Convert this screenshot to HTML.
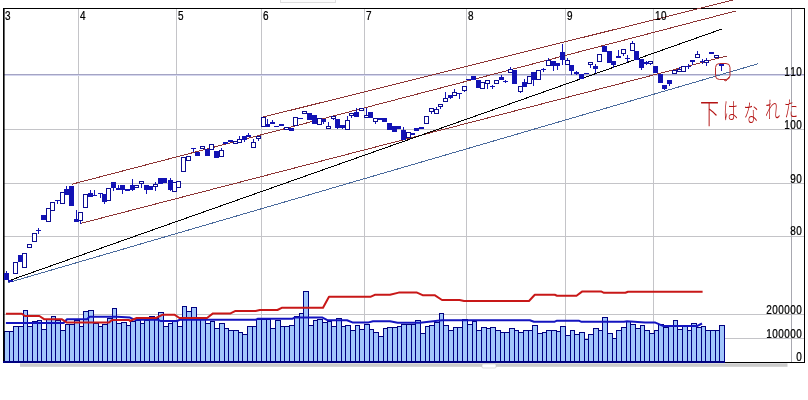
<!DOCTYPE html>
<html lang="ja"><head><meta charset="utf-8"><title>chart</title>
<style>html,body{margin:0;padding:0;background:#fff}body{width:808px;height:400px;overflow:hidden;font-family:"Liberation Sans","Noto Sans CJK JP",sans-serif}svg{display:block}text{font-family:"Liberation Sans","Noto Sans CJK JP",sans-serif}</style></head><body>
<svg width="808" height="400" viewBox="0 0 808 400">
<rect width="808" height="400" fill="#fff"/>
<rect x="20" y="363.3" width="767.5" height="3.5" fill="#cbcbcb"/>
<rect x="482" y="364" width="14" height="4" rx="1" fill="#fff" stroke="#bbb" stroke-width="0.5"/>
<rect x="280.5" y="-2" width="55" height="4.5" fill="#fdfdfd" stroke="#dedede" stroke-width="1"/>
<path d="M78.5 8V361 M176.5 8V361 M261.5 8V361 M364.5 8V361 M466.5 8V361 M565.5 8V361 M653.5 8V361 M4 129.5H804 M4 183.5H804 M4 236.5H804 M4 314.5H804 M4 338.5H804" stroke="#c4c4c8" stroke-width="1" fill="none" shape-rendering="crispEdges"/>
<path d="M4 74.5H804" stroke="#a4a4c4" stroke-width="1" shape-rendering="crispEdges"/>
<path d="M4 75.5H804" stroke="#d4d6ee" stroke-width="1" shape-rendering="crispEdges"/>
<g fill="#a2c6fb" stroke="#000080" stroke-width="1" shape-rendering="crispEdges"><rect x="4.5" y="331.5" width="5" height="30"/><rect x="9.5" y="331.5" width="4" height="30"/><rect x="13.5" y="326.5" width="5" height="35"/><rect x="18.5" y="326.5" width="5" height="35"/><rect x="23.5" y="310.5" width="4" height="51"/><rect x="27.5" y="326.5" width="5" height="35"/><rect x="32.5" y="321.5" width="5" height="40"/><rect x="37.5" y="320.5" width="4" height="41"/><rect x="41.5" y="329.5" width="5" height="32"/><rect x="46.5" y="319.5" width="5" height="42"/><rect x="51.5" y="316.5" width="4" height="45"/><rect x="55.5" y="320.5" width="5" height="41"/><rect x="60.5" y="330.5" width="5" height="31"/><rect x="65.5" y="324.5" width="4" height="37"/><rect x="69.5" y="324.5" width="5" height="37"/><rect x="74.5" y="320.5" width="5" height="41"/><rect x="79.5" y="326.5" width="4" height="35"/><rect x="83.5" y="311.5" width="5" height="50"/><rect x="88.5" y="310.5" width="5" height="51"/><rect x="93.5" y="323.5" width="5" height="38"/><rect x="98.5" y="326.5" width="4" height="35"/><rect x="102.5" y="324.5" width="5" height="37"/><rect x="107.5" y="318.5" width="5" height="43"/><rect x="112.5" y="308.5" width="4" height="53"/><rect x="116.5" y="323.5" width="5" height="38"/><rect x="121.5" y="322.5" width="5" height="39"/><rect x="126.5" y="325.5" width="4" height="36"/><rect x="130.5" y="321.5" width="5" height="40"/><rect x="135.5" y="320.5" width="5" height="41"/><rect x="140.5" y="323.5" width="4" height="38"/><rect x="144.5" y="320.5" width="5" height="41"/><rect x="149.5" y="316.5" width="5" height="45"/><rect x="154.5" y="318.5" width="4" height="43"/><rect x="158.5" y="312.5" width="5" height="49"/><rect x="163.5" y="326.5" width="5" height="35"/><rect x="168.5" y="323.5" width="4" height="38"/><rect x="172.5" y="321.5" width="5" height="40"/><rect x="177.5" y="326.5" width="5" height="35"/><rect x="182.5" y="306.5" width="4" height="55"/><rect x="186.5" y="311.5" width="5" height="50"/><rect x="191.5" y="307.5" width="5" height="54"/><rect x="196.5" y="318.5" width="4" height="43"/><rect x="200.5" y="318.5" width="5" height="43"/><rect x="205.5" y="323.5" width="5" height="38"/><rect x="210.5" y="321.5" width="4" height="40"/><rect x="214.5" y="328.5" width="5" height="33"/><rect x="219.5" y="323.5" width="5" height="38"/><rect x="224.5" y="328.5" width="4" height="33"/><rect x="228.5" y="330.5" width="5" height="31"/><rect x="233.5" y="330.5" width="5" height="31"/><rect x="238.5" y="332.5" width="4" height="29"/><rect x="242.5" y="334.5" width="5" height="27"/><rect x="247.5" y="326.5" width="5" height="35"/><rect x="252.5" y="326.5" width="4" height="35"/><rect x="256.5" y="319.5" width="5" height="42"/><rect x="261.5" y="319.5" width="5" height="42"/><rect x="266.5" y="319.5" width="4" height="42"/><rect x="270.5" y="328.5" width="5" height="33"/><rect x="275.5" y="320.5" width="5" height="41"/><rect x="280.5" y="326.5" width="4" height="35"/><rect x="284.5" y="326.5" width="5" height="35"/><rect x="289.5" y="325.5" width="5" height="36"/><rect x="294.5" y="316.5" width="5" height="45"/><rect x="299.5" y="313.5" width="4" height="48"/><rect x="303.5" y="291.5" width="5" height="70"/><rect x="308.5" y="325.5" width="5" height="36"/><rect x="313.5" y="320.5" width="4" height="41"/><rect x="317.5" y="319.5" width="5" height="42"/><rect x="322.5" y="322.5" width="5" height="39"/><rect x="327.5" y="321.5" width="4" height="40"/><rect x="331.5" y="326.5" width="5" height="35"/><rect x="336.5" y="318.5" width="5" height="43"/><rect x="341.5" y="326.5" width="4" height="35"/><rect x="345.5" y="325.5" width="5" height="36"/><rect x="350.5" y="330.5" width="5" height="31"/><rect x="355.5" y="325.5" width="4" height="36"/><rect x="359.5" y="329.5" width="5" height="32"/><rect x="364.5" y="324.5" width="5" height="37"/><rect x="369.5" y="329.5" width="4" height="32"/><rect x="373.5" y="332.5" width="5" height="29"/><rect x="378.5" y="336.5" width="5" height="25"/><rect x="383.5" y="328.5" width="4" height="33"/><rect x="387.5" y="327.5" width="5" height="34"/><rect x="392.5" y="327.5" width="5" height="34"/><rect x="397.5" y="326.5" width="4" height="35"/><rect x="401.5" y="324.5" width="5" height="37"/><rect x="406.5" y="324.5" width="5" height="37"/><rect x="411.5" y="324.5" width="4" height="37"/><rect x="415.5" y="320.5" width="5" height="41"/><rect x="420.5" y="333.5" width="5" height="28"/><rect x="425.5" y="326.5" width="4" height="35"/><rect x="429.5" y="325.5" width="5" height="36"/><rect x="434.5" y="322.5" width="5" height="39"/><rect x="439.5" y="313.5" width="4" height="48"/><rect x="443.5" y="325.5" width="5" height="36"/><rect x="448.5" y="330.5" width="5" height="31"/><rect x="453.5" y="327.5" width="4" height="34"/><rect x="457.5" y="327.5" width="5" height="34"/><rect x="462.5" y="319.5" width="5" height="42"/><rect x="467.5" y="324.5" width="5" height="37"/><rect x="472.5" y="321.5" width="4" height="40"/><rect x="476.5" y="330.5" width="5" height="31"/><rect x="481.5" y="327.5" width="5" height="34"/><rect x="486.5" y="328.5" width="4" height="33"/><rect x="490.5" y="327.5" width="5" height="34"/><rect x="495.5" y="330.5" width="5" height="31"/><rect x="500.5" y="332.5" width="4" height="29"/><rect x="504.5" y="332.5" width="5" height="29"/><rect x="509.5" y="328.5" width="5" height="33"/><rect x="514.5" y="330.5" width="4" height="31"/><rect x="518.5" y="332.5" width="5" height="29"/><rect x="523.5" y="330.5" width="5" height="31"/><rect x="528.5" y="330.5" width="4" height="31"/><rect x="532.5" y="325.5" width="5" height="36"/><rect x="537.5" y="333.5" width="5" height="28"/><rect x="542.5" y="332.5" width="4" height="29"/><rect x="546.5" y="330.5" width="5" height="31"/><rect x="551.5" y="330.5" width="5" height="31"/><rect x="556.5" y="331.5" width="4" height="30"/><rect x="560.5" y="326.5" width="5" height="35"/><rect x="565.5" y="335.5" width="5" height="26"/><rect x="570.5" y="330.5" width="4" height="31"/><rect x="574.5" y="334.5" width="5" height="27"/><rect x="579.5" y="332.5" width="5" height="29"/><rect x="584.5" y="339.5" width="4" height="22"/><rect x="588.5" y="334.5" width="5" height="27"/><rect x="593.5" y="328.5" width="5" height="33"/><rect x="598.5" y="330.5" width="4" height="31"/><rect x="602.5" y="317.5" width="5" height="44"/><rect x="607.5" y="333.5" width="5" height="28"/><rect x="612.5" y="338.5" width="4" height="23"/><rect x="616.5" y="330.5" width="5" height="31"/><rect x="621.5" y="327.5" width="5" height="34"/><rect x="626.5" y="321.5" width="4" height="40"/><rect x="630.5" y="324.5" width="5" height="37"/><rect x="635.5" y="328.5" width="5" height="33"/><rect x="640.5" y="325.5" width="4" height="36"/><rect x="644.5" y="330.5" width="5" height="31"/><rect x="649.5" y="333.5" width="5" height="28"/><rect x="654.5" y="330.5" width="4" height="31"/><rect x="658.5" y="324.5" width="5" height="37"/><rect x="663.5" y="327.5" width="5" height="34"/><rect x="668.5" y="326.5" width="5" height="35"/><rect x="673.5" y="320.5" width="4" height="41"/><rect x="677.5" y="329.5" width="5" height="32"/><rect x="682.5" y="325.5" width="5" height="36"/><rect x="687.5" y="330.5" width="4" height="31"/><rect x="691.5" y="323.5" width="5" height="38"/><rect x="696.5" y="327.5" width="5" height="34"/><rect x="701.5" y="326.5" width="4" height="35"/><rect x="705.5" y="330.5" width="5" height="31"/><rect x="710.5" y="330.5" width="5" height="31"/><rect x="715.5" y="330.5" width="4" height="31"/><rect x="719.5" y="325.5" width="5" height="36"/></g>
<path d="M3 8.5H805" stroke="#000" stroke-width="1" shape-rendering="crispEdges"/>
<rect x="3" y="8" width="1.6" height="355" fill="#000"/>
<path d="M804.5 8V363" stroke="#000" stroke-width="1" shape-rendering="crispEdges"/>
<path d="M3 362H725" stroke="#000080" stroke-width="2" shape-rendering="crispEdges"/>
<path d="M725 362.5H805" stroke="#000" stroke-width="1" shape-rendering="crispEdges"/>
<polyline points="5.9,323.0 63.6,323.0 67.0,319.3 87.0,319.3 89.6,316.8 117.0,316.8 130.0,317.6 135.0,319.8 158.5,319.8 160.5,321.0 177.0,321.0 180.0,319.8 255.6,319.8 258.0,318.7 292.6,318.7 295.0,317.4 322.0,317.4 327.4,320.2 347.0,320.2 352.4,322.4 368.7,322.4 373.0,321.3 390.0,321.3 397.6,322.8 420.0,322.8 442.0,320.2 529.8,320.2 534.0,321.7 554.8,321.7 557.0,320.7 578.7,320.7 581.0,321.7 624.0,321.7 627.0,321.3 645.0,322.4 654.8,322.4 663.5,326.1 697.0,326.1 702.0,323.5" fill="none" stroke="#1414c0" stroke-width="2" stroke-linejoin="round"/>
<polyline points="5.9,313.7 21.8,313.7 25.0,316.0 39.4,316.0 44.4,319.3 62.0,319.3 67.0,322.6 109.0,322.6 112.0,320.0 129.0,320.0 130.0,321.0 136.7,318.0 156.0,318.0 162.7,314.7 174.4,314.7 179.4,318.0 207.0,318.0 213.0,313.4 230.5,313.4 235.5,310.9 255.6,310.9 259.8,310.0 277.4,310.0 281.7,307.8 323.0,307.8 329.0,296.7 370.9,296.7 374.8,294.8 390.0,294.8 398.7,292.6 417.0,292.6 422.6,295.2 434.6,295.2 442.0,300.0 459.6,300.0 464.0,301.0 529.0,301.0 534.8,294.8 554.8,294.8 557.0,295.7 576.5,295.7 582.0,291.6 601.5,291.6 604.0,292.8 625.4,292.8 628.0,291.8 702.6,291.8" fill="none" stroke="#c81818" stroke-width="2" stroke-linejoin="round"/>
<g fill="none" stroke-width="1" shape-rendering="crispEdges">
<path d="M263 117.1L733 0" stroke="#8c3434"/>
<path d="M72 184.2L736 10.9" stroke="#8c3434"/>
<path d="M80.75 223.4L726.7 56" stroke="#8c3434"/>
<path d="M10 280.3L721.75 29.1" stroke="#000"/>
<path d="M8 282.7L758 63.8" stroke="#4a6a9c"/>
</g>
<path d="M6.5 271V273 M38.5 228V230 M38.5 231V234 M57.5 201V204 M66.5 186V189 M76.5 210V219 M80.5 221V224 M90.5 190V193 M94.5 190V195 M100.5 194V198 M104.5 202V204 M113.5 188V191 M118.5 185V188 M122.5 190V194 M132.5 179V185 M132.5 190V191 M141.5 184V188 M146.5 190V194 M155.5 182V184 M155.5 187V191 M170.5 178V180 M170.5 190V191 M193.5 149V152 M221.5 148V150 M239.5 136V139 M244.5 140V142 M248.5 133V135 M253.5 139V142 M258.5 139V141 M267.5 119V124 M272.5 120V122 M323.5 122V124 M328.5 122V126 M333.5 119V120 M337.5 128V129 M342.5 128V129 M347.5 116V120 M351.5 116V118 M356.5 108V112 M366.5 108V115 M375.5 122V124 M403.5 127V130 M431.5 112V114 M436.5 107V109 M440.5 107V109 M445.5 92V98 M450.5 98V99 M454.5 89V92 M459.5 94V99 M464.5 91V92 M487.5 84V89 M492.5 85V86 M492.5 87V89 M501.5 75V77 M505.5 80V81 M505.5 82V83 M510.5 67V69 M520.5 92V93 M524.5 79V82 M533.5 80V86 M543.5 68V69 M543.5 70V72 M548.5 58V60 M553.5 66V71 M557.5 66V70 M562.5 44V52 M562.5 60V65 M567.5 58V60 M571.5 71V75 M576.5 71V72 M576.5 74V75 M590.5 65V68 M595.5 64V66 M595.5 69V73 M613.5 65V68 M618.5 50V56 M623.5 54V56 M627.5 55V58 M627.5 59V62 M632.5 41V43 M641.5 68V70 M646.5 61V62 M646.5 64V65 M650.5 64V65 M664.5 89V90 M669.5 84V86 M679.5 67V69 M688.5 64V66 M688.5 67V69 M692.5 62V65 M697.5 51V54 M702.5 59V61 M702.5 62V64 M706.5 58V60 M706.5 63V66 M721.5 66V71" stroke="#1212b4" stroke-width="1" fill="none" shape-rendering="crispEdges"/>
<g fill="#fff" stroke="#0c0c92" stroke-width="1" shape-rendering="crispEdges"><rect x="13.5" y="262.5" width="4" height="11"/><rect x="22.5" y="253.5" width="4" height="14"/><rect x="27.5" y="244.5" width="4" height="3"/><rect x="32.5" y="233.5" width="4" height="8"/><rect x="46.5" y="208.5" width="4" height="13"/><rect x="50.5" y="202.5" width="4" height="8"/><rect x="60.5" y="192.5" width="4" height="11"/><rect x="78.5" y="212.5" width="4" height="8"/><rect x="83.5" y="194.5" width="4" height="13"/><rect x="106.5" y="188.5" width="4" height="12"/><rect x="134.5" y="185.5" width="4" height="2"/><rect x="139.5" y="181.5" width="4" height="2"/><rect x="153.5" y="184.5" width="4" height="2"/><rect x="172.5" y="182.5" width="4" height="9"/><rect x="176.5" y="181.5" width="4" height="6"/><rect x="181.5" y="157.5" width="4" height="14"/><rect x="186.5" y="156.5" width="4" height="4"/><rect x="200.5" y="146.5" width="4" height="2"/><rect x="209.5" y="144.5" width="4" height="5"/><rect x="219.5" y="150.5" width="4" height="6"/><rect x="233.5" y="141.5" width="4" height="2"/><rect x="237.5" y="139.5" width="4" height="3"/><rect x="251.5" y="142.5" width="4" height="5"/><rect x="256.5" y="136.5" width="4" height="2"/><rect x="261.5" y="117.5" width="4" height="9"/><rect x="284.5" y="127.5" width="4" height="2"/><rect x="293.5" y="117.5" width="4" height="8"/><rect x="302.5" y="111.5" width="4" height="2"/><rect x="317.5" y="118.5" width="4" height="6"/><rect x="326.5" y="126.5" width="4" height="2"/><rect x="331.5" y="116.5" width="4" height="2"/><rect x="345.5" y="120.5" width="4" height="9"/><rect x="349.5" y="113.5" width="4" height="2"/><rect x="359.5" y="108.5" width="4" height="2"/><rect x="364.5" y="115.5" width="4" height="2"/><rect x="373.5" y="118.5" width="4" height="3"/><rect x="406.5" y="132.5" width="4" height="5"/><rect x="424.5" y="116.5" width="4" height="7"/><rect x="429.5" y="108.5" width="4" height="3"/><rect x="434.5" y="109.5" width="4" height="4"/><rect x="438.5" y="104.5" width="4" height="2"/><rect x="443.5" y="98.5" width="4" height="3"/><rect x="452.5" y="92.5" width="4" height="3"/><rect x="462.5" y="86.5" width="4" height="4"/><rect x="480.5" y="82.5" width="4" height="6"/><rect x="485.5" y="80.5" width="4" height="3"/><rect x="494.5" y="80.5" width="4" height="3"/><rect x="508.5" y="69.5" width="4" height="3"/><rect x="518.5" y="86.5" width="4" height="5"/><rect x="527.5" y="76.5" width="4" height="7"/><rect x="536.5" y="70.5" width="4" height="9"/><rect x="546.5" y="60.5" width="4" height="5"/><rect x="565.5" y="60.5" width="4" height="4"/><rect x="588.5" y="62.5" width="4" height="2"/><rect x="597.5" y="54.5" width="4" height="7"/><rect x="621.5" y="49.5" width="4" height="4"/><rect x="630.5" y="43.5" width="4" height="7"/><rect x="648.5" y="61.5" width="4" height="2"/><rect x="672.5" y="70.5" width="4" height="3"/><rect x="677.5" y="69.5" width="4" height="2"/><rect x="681.5" y="66.5" width="4" height="5"/><rect x="695.5" y="54.5" width="4" height="3"/><rect x="704.5" y="60.5" width="4" height="2"/><rect x="714.5" y="55.5" width="4" height="2"/></g>
<g fill="#1212b4" shape-rendering="crispEdges"><rect x="4.0" y="273" width="5" height="7"/><rect x="8.0" y="280" width="5" height="2"/><rect x="18.0" y="255" width="5" height="7"/><rect x="36.0" y="230" width="5" height="1"/><rect x="41.0" y="215" width="5" height="5"/><rect x="55.0" y="200" width="5" height="1"/><rect x="64.0" y="189" width="5" height="6"/><rect x="69.0" y="186" width="5" height="20"/><rect x="74.0" y="219" width="5" height="3"/><rect x="88.0" y="193" width="5" height="4"/><rect x="92.0" y="195" width="5" height="1"/><rect x="98.0" y="193" width="5" height="1"/><rect x="102.0" y="194" width="5" height="8"/><rect x="111.0" y="182" width="5" height="6"/><rect x="116.0" y="188" width="5" height="2"/><rect x="120.0" y="185" width="5" height="5"/><rect x="125.0" y="189" width="5" height="2"/><rect x="130.0" y="185" width="5" height="5"/><rect x="144.0" y="185" width="5" height="5"/><rect x="148.0" y="186" width="5" height="4"/><rect x="158.0" y="178" width="5" height="6"/><rect x="162.0" y="178" width="5" height="5"/><rect x="168.0" y="180" width="5" height="10"/><rect x="191.0" y="148" width="5" height="1"/><rect x="195.0" y="152" width="5" height="4"/><rect x="205.0" y="149" width="5" height="7"/><rect x="214.0" y="151" width="5" height="7"/><rect x="223.0" y="142" width="5" height="2"/><rect x="228.0" y="140" width="5" height="2"/><rect x="242.0" y="136" width="5" height="4"/><rect x="246.0" y="135" width="5" height="2"/><rect x="265.0" y="124" width="5" height="3"/><rect x="270.0" y="122" width="5" height="2"/><rect x="274.0" y="126" width="5" height="1"/><rect x="279.0" y="124" width="5" height="2"/><rect x="289.0" y="128" width="5" height="3"/><rect x="298.0" y="118" width="5" height="1"/><rect x="307.0" y="113" width="5" height="7"/><rect x="312.0" y="115" width="5" height="9"/><rect x="321.0" y="119" width="5" height="3"/><rect x="335.0" y="119" width="5" height="9"/><rect x="340.0" y="125" width="5" height="3"/><rect x="354.0" y="112" width="5" height="5"/><rect x="368.0" y="112" width="5" height="6"/><rect x="378.0" y="118" width="5" height="2"/><rect x="382.0" y="118" width="5" height="4"/><rect x="387.0" y="123" width="5" height="7"/><rect x="392.0" y="126" width="5" height="6"/><rect x="396.0" y="126" width="5" height="3"/><rect x="401.0" y="130" width="5" height="10"/><rect x="410.0" y="133" width="5" height="2"/><rect x="414.0" y="128" width="5" height="3"/><rect x="419.0" y="127" width="5" height="2"/><rect x="448.0" y="95" width="5" height="3"/><rect x="457.0" y="93" width="5" height="1"/><rect x="466.0" y="79" width="5" height="1"/><rect x="471.0" y="76" width="5" height="4"/><rect x="476.0" y="80" width="5" height="8"/><rect x="490.0" y="86" width="5" height="1"/><rect x="499.0" y="77" width="5" height="3"/><rect x="503.0" y="81" width="5" height="1"/><rect x="512.0" y="70" width="5" height="14"/><rect x="522.0" y="82" width="5" height="5"/><rect x="531.0" y="72" width="5" height="8"/><rect x="541.0" y="69" width="5" height="1"/><rect x="551.0" y="61" width="5" height="5"/><rect x="555.0" y="63" width="5" height="3"/><rect x="560.0" y="52" width="5" height="8"/><rect x="569.0" y="65" width="5" height="6"/><rect x="574.0" y="72" width="5" height="2"/><rect x="579.0" y="74" width="5" height="5"/><rect x="584.0" y="73" width="5" height="1"/><rect x="593.0" y="66" width="5" height="3"/><rect x="602.0" y="46" width="5" height="6"/><rect x="607.0" y="51" width="5" height="12"/><rect x="611.0" y="61" width="5" height="4"/><rect x="616.0" y="56" width="5" height="2"/><rect x="625.0" y="58" width="5" height="1"/><rect x="634.0" y="51" width="5" height="9"/><rect x="639.0" y="59" width="5" height="9"/><rect x="644.0" y="62" width="5" height="2"/><rect x="653.0" y="66" width="5" height="7"/><rect x="658.0" y="74" width="5" height="9"/><rect x="662.0" y="85" width="5" height="4"/><rect x="667.0" y="80" width="5" height="4"/><rect x="686.0" y="66" width="5" height="1"/><rect x="690.0" y="60" width="5" height="2"/><rect x="700.0" y="61" width="5" height="1"/><rect x="709.0" y="52" width="5" height="2"/><rect x="719.0" y="64" width="5" height="2"/></g>
<path d="M791.5 9V362" stroke="#a8a8b0" stroke-width="1" shape-rendering="crispEdges"/>
<text transform="scale(0.83,1)" x="6.02" y="20" font-size="12" fill="#000" stroke="#000" stroke-width="0.25">3</text>
<text transform="scale(0.83,1)" x="96.39" y="20" font-size="12" fill="#000" stroke="#000" stroke-width="0.25">4</text>
<text transform="scale(0.83,1)" x="214.46" y="20" font-size="12" fill="#000" stroke="#000" stroke-width="0.25">5</text>
<text transform="scale(0.83,1)" x="316.87" y="20" font-size="12" fill="#000" stroke="#000" stroke-width="0.25">6</text>
<text transform="scale(0.83,1)" x="440.96" y="20" font-size="12" fill="#000" stroke="#000" stroke-width="0.25">7</text>
<text transform="scale(0.83,1)" x="563.86" y="20" font-size="12" fill="#000" stroke="#000" stroke-width="0.25">8</text>
<text transform="scale(0.83,1)" x="683.13" y="20" font-size="12" fill="#000" stroke="#000" stroke-width="0.25">9</text>
<text transform="scale(0.83,1)" x="789.16 796.39" y="20" font-size="12" fill="#000" stroke="#000" stroke-width="0.25">10</text>
<text transform="scale(0.83,1)" x="944.94 952.17 959.40" y="76" font-size="12" fill="#000" stroke="#000" stroke-width="0.25">110</text>
<text transform="scale(0.83,1)" x="944.94 952.17 959.40" y="129" font-size="12" fill="#000" stroke="#000" stroke-width="0.25">100</text>
<text transform="scale(0.83,1)" x="952.17 959.40" y="183" font-size="12" fill="#000" stroke="#000" stroke-width="0.25">90</text>
<text transform="scale(0.83,1)" x="952.17 959.40" y="235.5" font-size="12" fill="#000" stroke="#000" stroke-width="0.25">80</text>
<text transform="scale(0.83,1)" x="923.25 930.48 937.71 944.94 952.17 959.40" y="314" font-size="12" fill="#000" stroke="#000" stroke-width="0.25">200000</text>
<text transform="scale(0.83,1)" x="923.25 930.48 937.71 944.94 952.17 959.40" y="338" font-size="12" fill="#000" stroke="#000" stroke-width="0.25">100000</text>
<text transform="scale(0.83,1)" x="959.40" y="361" font-size="12" fill="#000" stroke="#000" stroke-width="0.25">0</text>
<rect x="715.5" y="63.5" width="14.5" height="16" rx="4" fill="none" stroke="#b82828" stroke-width="1"/>
<path d="M729 77L726 81L724 80" fill="none" stroke="#b82828" stroke-width="1"/>
<text transform="scale(1,1.5)" fill="#b41414" font-weight="300" style="font-family:'Liberation Sans','Noto Sans CJK JP',sans-serif"><tspan x="700" y="83" font-size="19">下</tspan><tspan x="723" y="79.3" font-size="15">は</tspan><tspan x="743.5" y="80.7" font-size="15">な</tspan><tspan x="765" y="78.7" font-size="15">れ</tspan><tspan x="784" y="77.3" font-size="14">た</tspan></text>
</svg></body></html>
